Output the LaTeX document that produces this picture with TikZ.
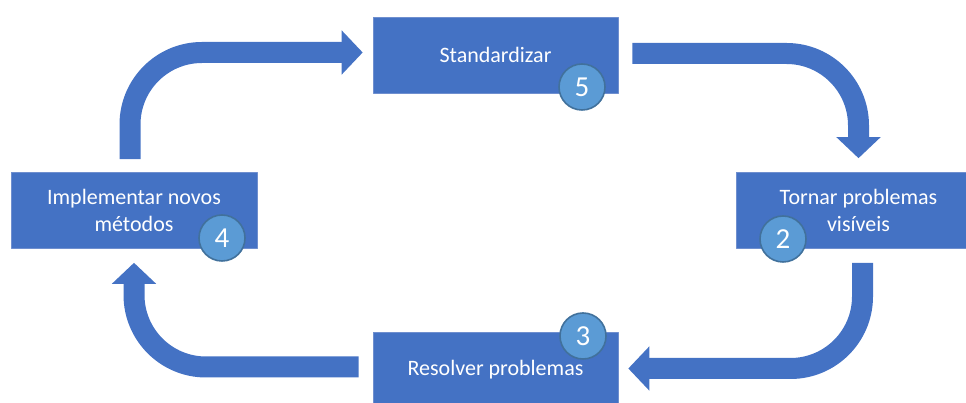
\documentclass[tikz,border=0pt]{standalone}
\usepackage{fontspec}
\setmainfont{Carlito}
\usepackage{xcolor}
\usepackage{tikz}
\usetikzlibrary{arrows.meta,positioning,calc}
\definecolor{boxblue}{HTML}{4472C4}
\definecolor{edgeblue}{HTML}{6F8FCF}
\definecolor{numblue}{HTML}{5B9BD5}
\definecolor{numedge}{HTML}{41719C}

\begin{document}
\begin{tikzpicture}[
    x=1pt,y=1pt,
    line join=round,
    stepbox/.style={draw=edgeblue, fill=boxblue, line width=0.6pt, minimum width=245pt, minimum height=76pt, inner sep=4pt, align=center, text=white, font=\fontsize{22}{27}\selectfont},
    badge/.style={circle, draw=numedge, fill=numblue, line width=1.6pt, minimum size=46pt, inner sep=0pt, text=white, font=\fontsize{29}{30}\selectfont},
    flow/.style={-{Triangle[length=21pt,width=43pt]}, line width=21pt, draw=boxblue, rounded corners=72pt}
]

\clip (0,0) rectangle (966,403);

% Step boxes
\node[stepbox] (std)  at (495.5,348)   {Standardizar};
\node[stepbox] (torn) at (858.5,192.5) {Tornar problemas\\visíveis};
\node[stepbox] (res)  at (495.5,33)    {Resolver problemas};
\node[stepbox, minimum width=246pt] (impl) at (134,192.5) {Implementar novos\\métodos};

% Cycle arrows
\draw[flow] ([xshift=-4pt,yshift=13pt]impl.north) |- ([xshift=-10pt,yshift=2.5pt]std.west);
\draw[flow] ([xshift=14pt,yshift=1.5pt]std.east) -| ([yshift=14pt]torn.north);
\draw[flow] ([xshift=4pt,yshift=-14pt]torn.south) |- ([xshift=10pt,yshift=1.5pt]res.east);
\draw[flow] ([xshift=-14pt,yshift=3pt]res.west) -| ([yshift=-14pt]impl.south);

% Step numbers
\node[badge] (n5) at (582,316) {5};
\node[badge] (n2) at (783,164) {2};
\node[badge] (n3) at (583,67)  {3};
\node[badge] (n4) at (222,165) {4};

\end{tikzpicture}
\end{document}
